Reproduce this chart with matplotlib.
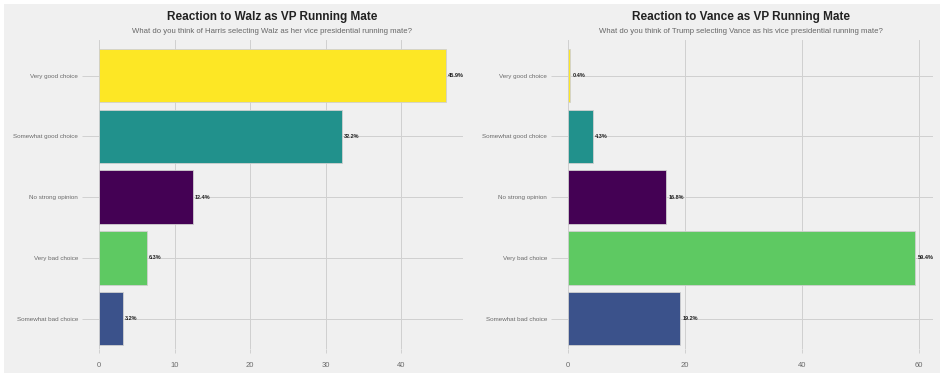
import matplotlib
matplotlib.use("Agg")
import matplotlib.pyplot as plt

plt.rcParams['font.family'] = ['Liberation Sans', 'DejaVu Sans']

# survey answers, top to bottom as shown
categories = ["Very good choice", "Somewhat good choice", "No strong opinion",
              "Very bad choice", "Somewhat bad choice"]
walz_pct = [45.9, 32.2, 12.4, 6.3, 3.2]
vance_pct = [0.4, 4.3, 16.8, 59.4, 19.2]
walz_ticks = [0, 10, 20, 30, 40]
vance_ticks = [0, 20, 40, 60]

colors = ["#fde725", "#21918c", "#440154", "#5ec962", "#3b528b"]

panels = [
    ("Reaction to Walz as VP Running Mate",
     "What do you think of Harris selecting Walz as her vice presidential running mate?",
     walz_pct, walz_ticks, 0.1048, 0.3852),
    ("Reaction to Vance as VP Running Mate",
     "What do you think of Trump selecting Vance as his vice presidential running mate?",
     vance_pct, vance_ticks, 0.601, 0.386),
]

fig = plt.figure(figsize=(9.45, 3.78), dpi=100)
fig.patch.set_facecolor("white")
# grey panel behind everything
fig.patches.append(plt.Rectangle((4 / 945, 5 / 378), 936 / 945, 369 / 378,
                                 transform=fig.transFigure, facecolor="#f0f0f0",
                                 edgecolor="none", zorder=-10))

for title, sub, vals, ticks, left, width in panels:
    ax = fig.add_axes([left, 0.0767, width, 0.817])
    ax.set_facecolor("#f0f0f0")
    ypos = list(range(len(categories)))
    bars = ax.barh(ypos, vals, height=0.88, color=colors,
                   edgecolor="#d0d0d0", linewidth=0.6, zorder=3)
    ax.set_yticks(ypos)
    ax.set_yticklabels(categories)
    ax.set_ylim(4.5, -0.584)
    ax.set_xlim(0, max(vals) * 1.05)
    ax.set_xticks(ticks)
    ax.grid(True, color="#d0d0d0", linewidth=0.7, zorder=0)
    for s in ax.spines.values():
        s.set_visible(False)
    ax.tick_params(axis="y", length=12, width=0.6, color="#cbcbcb",
                   labelsize=4.5, labelcolor="#6a6a6a", pad=3)
    ax.tick_params(axis="x", length=3, width=0.6, color="#cbcbcb",
                   labelsize=5.5, labelcolor="#6a6a6a", pad=6)
    ax.bar_label(bars, labels=[f"{v}%" for v in vals], padding=1.5,
                 fontsize=4, fontweight="bold", color="#222222")
    ax.text(0.475, 1.074, title, transform=ax.transAxes, ha="center", va="center",
            fontsize=8.5, fontweight="bold", color="#222222")
    ax.text(0.475, 1.029, sub, transform=ax.transAxes, ha="center", va="center",
            fontsize=5.6, color="#666666")

fig.savefig("out.png", dpi=100)
